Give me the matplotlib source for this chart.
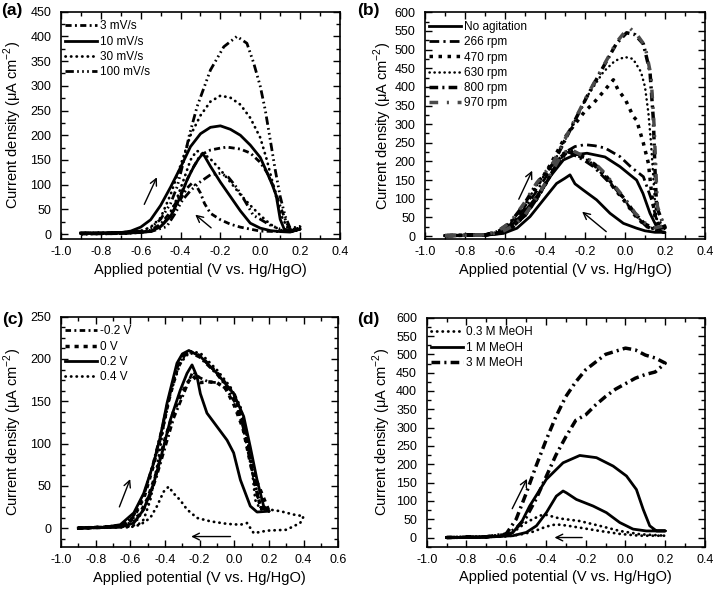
import matplotlib
matplotlib.use('Agg')
import matplotlib.pyplot as plt
from matplotlib.ticker import MultipleLocator

plt.rcParams['font.family'] = ['Liberation Sans', 'DejaVu Sans']
plt.rcParams['mathtext.fontset'] = 'custom'
plt.rcParams['mathtext.rm'] = 'Liberation Sans'
plt.rcParams['axes.unicode_minus'] = False

# ---------------- (a) scan rate ----------------
a3_v = [-0.9, -0.7, -0.6, -0.55, -0.5, -0.45, -0.4, -0.35, -0.3, -0.25, -0.2, -0.167, -0.1, -0.05, 0.0, 0.033, 0.067, 0.1, 0.133, 0.15, 0.2,
        0.15, 0.1, 0.0, -0.1, -0.15, -0.2, -0.25, -0.28, -0.3, -0.32, -0.34, -0.37, -0.4, -0.45, -0.5, -0.55, -0.7, -0.9]
a3_j = [0, 1, 3, 8, 20, 45, 80, 125, 160, 170, 174, 176, 172, 164, 145, 125, 96, 56, 22, 10, 10,
        6, 5, 6, 14, 20, 29, 42, 62, 83, 97, 104, 92, 70, 38, 15, 5, 1, 0]
a10_v = [-0.9, -0.8, -0.7, -0.65, -0.6, -0.55, -0.5, -0.45, -0.4, -0.35, -0.3, -0.25, -0.2, -0.15, -0.1, -0.05, 0.0, 0.03, 0.06, 0.08, 0.1, 0.12, 0.15, 0.2,
         0.15, 0.1, 0.05, 0.0, -0.05, -0.1, -0.15, -0.2, -0.25, -0.28, -0.29, -0.31, -0.333, -0.367, -0.4, -0.45, -0.5, -0.55, -0.6, -0.7, -0.9]
a10_j = [2, 2, 3, 6, 14, 29, 58, 95, 135, 177, 203, 216, 219, 212, 200, 180, 155, 128, 100, 78, 30, 10, 5, 10,
         4, 5, 7, 12, 22, 47, 76, 105, 137, 158, 162, 152, 137, 110, 76, 36, 15, 6, 3, 2, 2]
a30_v = [-0.9, -0.7, -0.6, -0.55, -0.5, -0.45, -0.4, -0.35, -0.3, -0.25, -0.2, -0.15, -0.1, -0.05, 0.0, 0.033, 0.067, 0.1, 0.133, 0.15, 0.2,
         0.15, 0.1, 0.05, 0.0, -0.05, -0.1, -0.15, -0.2, -0.25, -0.3, -0.32, -0.35, -0.38, -0.42, -0.46, -0.5, -0.55, -0.7, -0.9]
a30_j = [1, 2, 6, 14, 33, 80, 139, 200, 240, 268, 280, 276, 262, 235, 195, 150, 96, 42, 15, 8, 12,
         6, 8, 20, 38, 58, 80, 105, 130, 152, 167, 168, 150, 115, 70, 35, 15, 5, 1, 1]
a100_v = [-0.9, -0.7, -0.6, -0.55, -0.5, -0.45, -0.417, -0.383, -0.358, -0.317, -0.25, -0.183, -0.117, -0.067, -0.033, 0.0, 0.025, 0.05, 0.075, 0.1, 0.125, 0.15, 0.2,
          0.15, 0.1, 0.05, 0.0, -0.035, -0.08, -0.12, -0.16, -0.2, -0.25, -0.3, -0.35, -0.39, -0.43, -0.47, -0.55, -0.7, -0.9]
a100_j = [2, 3, 6, 12, 30, 62, 96, 150, 197, 258, 332, 379, 400, 386, 346, 299, 251, 191, 130, 76, 36, 12, 15,
          8, 10, 18, 30, 38, 69, 95, 115, 123, 120, 106, 88, 69, 40, 15, 5, 2, 2]

# ---------------- (b) agitation ----------------
b0_v = [-0.9, -0.7, -0.64, -0.575, -0.508, -0.442, -0.375, -0.308, -0.25, -0.19, -0.1, -0.025, 0.03, 0.058, 0.09, 0.125, 0.158, 0.18, 0.2,
        0.15, 0.1, 0.058, -0.008, -0.075, -0.142, -0.208, -0.25, -0.275, -0.3, -0.342, -0.408, -0.475, -0.54, -0.608, -0.7, -0.9]
b0_j = [1, 2, 7, 25, 61, 106, 159, 204, 218, 222, 212, 186, 162, 150, 114, 61, 25, 12, 10,
        10, 14, 21, 34, 61, 97, 123, 140, 164, 155, 141, 97, 52, 21, 7, 2, 1]
b266_v = [-0.9, -0.7, -0.64, -0.575, -0.508, -0.442, -0.375, -0.308, -0.25, -0.2, -0.15, -0.1, -0.025, 0.03, 0.092, 0.133, 0.158, 0.18, 0.2,
          0.15, 0.108, 0.058, 0.008, -0.042, -0.108, -0.158, -0.208, -0.258, -0.28, -0.325, -0.375, -0.44, -0.5, -0.56, -0.62, -0.7, -0.9]
b266_j = [1, 3, 9, 30, 70, 120, 175, 222, 240, 245, 242, 236, 213, 185, 159, 97, 43, 25, 22,
          18, 25, 52, 88, 123, 159, 186, 204, 218, 225, 204, 159, 100, 55, 25, 8, 3, 1]
b470_v = [-0.9, -0.7, -0.64, -0.575, -0.508, -0.442, -0.375, -0.3, -0.25, -0.2, -0.158, -0.108, -0.058, -0.033, 0.0, 0.042, 0.058, 0.092, 0.117, 0.133, 0.15, 0.17, 0.2,
          0.15, 0.1, 0.05, 0.0, -0.05, -0.1, -0.15, -0.2, -0.25, -0.28, -0.32, -0.37, -0.44, -0.5, -0.56, -0.62, -0.7, -0.9]
b470_j = [1, 3, 10, 32, 75, 130, 190, 265, 300, 335, 356, 387, 419, 390, 368, 320, 311, 249, 195, 115, 52, 25, 22,
          15, 28, 55, 92, 125, 160, 188, 206, 220, 230, 210, 165, 100, 55, 25, 8, 3, 1]
b630_v = [-0.9, -0.7, -0.64, -0.575, -0.508, -0.442, -0.358, -0.275, -0.19, -0.108, -0.05, 0.0, 0.04, 0.08, 0.1, 0.117, 0.13, 0.14, 0.15, 0.16, 0.2,
          0.15, 0.1, 0.05, 0.0, -0.05, -0.1, -0.15, -0.2, -0.25, -0.28, -0.32, -0.37, -0.44, -0.5, -0.56, -0.62, -0.7, -0.9]
b630_j = [1, 3, 10, 33, 78, 135, 195, 284, 374, 440, 470, 480, 475, 440, 400, 330, 250, 170, 90, 45, 25,
          18, 30, 58, 95, 128, 162, 190, 208, 222, 228, 208, 162, 98, 54, 24, 8, 3, 1]
b800_v = [-0.9, -0.7, -0.64, -0.575, -0.508, -0.442, -0.358, -0.275, -0.19, -0.108, -0.042, 0.008, 0.05, 0.092, 0.125, 0.142, 0.15, 0.158, 0.19, 0.2,
          0.15, 0.1, 0.05, 0.0, -0.05, -0.1, -0.15, -0.2, -0.25, -0.28, -0.32, -0.37, -0.44, -0.5, -0.56, -0.62, -0.7, -0.9]
b800_j = [1, 3, 11, 35, 82, 140, 195, 284, 374, 454, 517, 545, 540, 515, 440, 311, 177, 79, 34, 25,
          20, 32, 60, 98, 130, 165, 192, 210, 224, 232, 212, 166, 102, 56, 26, 9, 3, 1]
b970_v = [-0.9, -0.7, -0.64, -0.575, -0.508, -0.442, -0.358, -0.275, -0.19, -0.108, -0.042, 0.008, 0.025, 0.06, 0.1, 0.13, 0.145, 0.155, 0.162, 0.19, 0.2,
          0.15, 0.1, 0.05, 0.0, -0.05, -0.1, -0.15, -0.2, -0.25, -0.28, -0.32, -0.37, -0.44, -0.5, -0.56, -0.62, -0.7, -0.9]
b970_j = [1, 3, 12, 36, 85, 142, 198, 287, 376, 456, 520, 553, 557, 540, 510, 430, 300, 170, 80, 34, 28,
          22, 35, 62, 100, 133, 168, 195, 212, 226, 234, 215, 168, 104, 57, 27, 10, 3, 1]

# ---------------- (c) potential ----------------
cm02_v = [-0.9, -0.75, -0.65, -0.58, -0.52, -0.47, -0.42, -0.38, -0.33, -0.29, -0.26, -0.2, -0.1, 0.0, 0.05, 0.09, 0.12, 0.15, 0.2,
          0.15, 0.1, 0.05, 0.0, -0.05, -0.1, -0.15, -0.2, -0.24, -0.27, -0.3, -0.35, -0.4, -0.45, -0.5, -0.56, -0.65, -0.9]
cm02_j = [0, 1, 4, 15, 40, 75, 115, 152, 190, 205, 208, 202, 182, 155, 125, 85, 50, 25, 20,
          25, 70, 120, 150, 165, 172, 173, 178, 185, 170, 155, 130, 95, 60, 30, 10, 2, 0]
c0_v = [-0.9, -0.75, -0.65, -0.58, -0.52, -0.47, -0.42, -0.38, -0.33, -0.29, -0.26, -0.2, -0.1, 0.0, 0.05, 0.09, 0.12, 0.15, 0.2,
        0.1, 0.05, 0.0, -0.05, -0.1, -0.15, -0.2, -0.24, -0.27, -0.3, -0.35, -0.4, -0.45, -0.5, -0.55, -0.65, -0.9]
c0_j = [0, 1, 3, 13, 37, 72, 112, 150, 188, 204, 209, 204, 184, 158, 128, 88, 52, 26, 20,
        70, 118, 145, 165, 172, 173, 172, 180, 172, 160, 138, 105, 65, 35, 15, 2, 0]
c02_v = [-0.9, -0.75, -0.658, -0.58, -0.523, -0.465, -0.427, -0.388, -0.331, -0.3, -0.263, -0.196, -0.1, -0.004, 0.054, 0.092, 0.131, 0.169, 0.2,
         0.131, 0.092, 0.035, -0.004, -0.042, -0.1, -0.158, -0.196, -0.215, -0.244, -0.273, -0.312, -0.369, -0.417, -0.465, -0.523, -0.58, -0.658, -0.9]
c02_j = [0, 1, 4, 18, 41, 77, 108, 148, 195, 206, 210, 203, 183, 159, 132, 96, 57, 26, 20,
         19, 26, 57, 89, 104, 120, 136, 159, 179, 193, 183, 163, 128, 89, 53, 22, 6, 1, 0]
c04_v = [-0.9, -0.6, -0.55, -0.523, -0.485, -0.446, -0.408, -0.369, -0.312, -0.254, -0.196, -0.1, -0.023, 0.035, 0.073, 0.102, 0.121, 0.15, 0.2, 0.265, 0.342, 0.4,
         0.38, 0.3, 0.19, 0.112, 0.073, 0.035, -0.042, -0.138, -0.215, -0.273, -0.312, -0.35, -0.379, -0.408, -0.446, -0.485, -0.542, -0.6, -0.9]
c04_j = [0, 2, 5, 10, 33, 73, 120, 159, 195, 209, 207, 187, 167, 144, 108, 69, 33, 22, 22, 20, 16, 14,
         6, -2, -3, -6, 6, 4, 5, 8, 12, 22, 33, 41, 49, 43, 26, 12, 4, 1, 0]

# ---------------- (d) methanol concentration ----------------
d03_v = [-0.9, -0.7, -0.6, -0.566, -0.5, -0.43, -0.4, -0.331, -0.23, -0.13, -0.029, 0.072, 0.2,
         0.07, -0.03, -0.13, -0.23, -0.3, -0.35, -0.398, -0.465, -0.53, -0.6, -0.9]
d03_j = [0, 1, 5, 14, 41, 60, 62, 52, 45, 32, 18, 9, 5,
         5, 10, 18, 27, 33, 36, 30, 16, 8, 3, 0]
d1_v = [-0.9, -0.7, -0.62, -0.566, -0.52, -0.482, -0.398, -0.314, -0.23, -0.146, -0.062, 0.005, 0.055, 0.089, 0.122, 0.156, 0.2,
        0.105, 0.038, -0.029, -0.096, -0.163, -0.247, -0.297, -0.314, -0.348, -0.398, -0.448, -0.499, -0.566, -0.7, -0.9]
d1_j = [0, 2, 5, 14, 45, 86, 159, 204, 224, 218, 195, 168, 131, 77, 32, 18, 18,
        18, 23, 41, 68, 86, 104, 122, 127, 113, 68, 32, 14, 5, 1, 0]
d3_v = [-0.9, -0.7, -0.6, -0.55, -0.5, -0.45, -0.4, -0.35, -0.3, -0.25, -0.2, -0.1, 0.0, 0.05, 0.1, 0.15, 0.2,
        0.15, 0.1, 0.05, 0.0, -0.05, -0.1, -0.15, -0.2, -0.25, -0.3, -0.35, -0.4, -0.45, -0.5, -0.55, -0.6, -0.7, -0.9]
d3_j = [0, 2, 10, 50, 120, 195, 265, 330, 385, 425, 458, 500, 517, 512, 498, 490, 476,
        452, 445, 435, 420, 405, 385, 362, 335, 320, 275, 225, 165, 105, 55, 25, 8, 2, 0]

xlabel = 'Applied potential (V vs. Hg/HgO)'
ylabel = 'Current density (μA cm$^{-2}$)'

fig = plt.figure(figsize=(7.15, 5.9), dpi=100)
ax_a = fig.add_axes([0.0853, 0.5949, 0.3902, 0.3853])
ax_b = fig.add_axes([0.5944, 0.5949, 0.3916, 0.3843])
ax_c = fig.add_axes([0.0853, 0.0734, 0.3879, 0.3898])
ax_d = fig.add_axes([0.5968, 0.0734, 0.3892, 0.3881])

dot = (0, (0.1, 1.9))


def style(ax, xlim, ylim, ymaj, ymin, lx, ly):
    ax.set_xlim(*xlim)
    ax.set_ylim(*ylim)
    ax.xaxis.set_major_locator(MultipleLocator(0.2))
    ax.xaxis.set_minor_locator(MultipleLocator(0.1))
    ax.yaxis.set_major_locator(MultipleLocator(ymaj))
    ax.yaxis.set_minor_locator(MultipleLocator(ymin))
    ax.tick_params(which='both', direction='in', top=True, right=True, width=1)
    ax.tick_params(which='major', length=5, labelsize=9)
    ax.tick_params(axis='x', which='major', pad=5)
    ax.tick_params(axis='y', which='major', pad=7)
    ax.tick_params(which='minor', length=3)
    for s in ax.spines.values():
        s.set_linewidth(1.2)
    ax.set_xlabel(xlabel, fontsize=10.5)
    ax.set_ylabel(ylabel, fontsize=10.5)
    ax.xaxis.set_label_coords(0.5, ly)
    ax.yaxis.set_label_coords(lx, 0.5)
    ax.legend(loc='upper left', bbox_to_anchor=(0.0, 0.98), frameon=False, fontsize=8.5,
              handlelength=2.7, handletextpad=0.25, labelspacing=0.28, borderpad=0.35,
              borderaxespad=0.0)


def arrow(ax, start, end):
    ax.annotate('', xy=end, xytext=start,
                arrowprops=dict(arrowstyle='->', lw=1, color='black', mutation_scale=12))


# (a)
ax_a.plot(a3_v, a3_j, color='black', lw=2, ls=(0, (2.2, 1.2, 0.7, 1.2)), label='3 mV/s')
ax_a.plot(a10_v, a10_j, color='black', lw=2, label='10 mV/s')
ax_a.plot(a30_v, a30_j, color='black', lw=2, ls=dot, dash_capstyle='round', label='30 mV/s')
ax_a.plot(a100_v, a100_j, color='black', lw=2, ls=(0, (3, 1.2, 0.6, 1.2, 0.6, 1.2, 0.6, 1.2)), label='100 mV/s')
arrow(ax_a, (-0.588, 55), (-0.513, 120))
arrow(ax_a, (-0.236, 9), (-0.337, 43))
style(ax_a, (-1.0, 0.4), (-10, 450), 50, 25, -0.131, -0.106)

# (b)
ax_b.plot(b0_v, b0_j, color='black', lw=2, label='No agitation')
ax_b.plot(b266_v, b266_j, color='black', lw=2, ls=(0, (3.5, 1.5, 0.8, 1.5)), label='266 rpm')
ax_b.plot(b470_v, b470_j, color='black', lw=2.5, ls=(0, (1, 1.6)), label='470 rpm')
ax_b.plot(b630_v, b630_j, color='black', lw=1.8, ls=dot, dash_capstyle='round', label='630 rpm')
ax_b.plot(b800_v, b800_j, color='black', lw=2.5, ls=(0, (2.5, 1.2, 0.6, 1.2)), label='800 rpm')
ax_b.plot(b970_v, b970_j, color='#4a4a4a', lw=2.5, ls=(0, (2.5, 2.5, 0.6, 2.5)), label='970 rpm')
arrow(ax_b, (-0.537, 92), (-0.458, 182))
arrow(ax_b, (-0.083, 7), (-0.225, 70))
style(ax_b, (-1.0, 0.4), (-8, 600), 50, 25, -0.112, -0.106)

# (c)
ax_c.plot(cm02_v, cm02_j, color='black', lw=2, ls=(0, (2, 1.2, 0.7, 1.2)), label='-0.2 V')
ax_c.plot(c0_v, c0_j, color='black', lw=2.5, ls=(0, (1.2, 1.4)), label='0 V')
ax_c.plot(c02_v, c02_j, color='black', lw=2, label='0.2 V')
ax_c.plot(c04_v, c04_j, color='black', lw=2, ls=dot, dash_capstyle='round', label='0.4 V')
arrow(ax_c, (-0.669, 22), (-0.595, 61))
arrow(ax_c, (-0.006, -10), (-0.265, -10))
style(ax_c, (-1.0, 0.6), (-22, 250), 50, 12.5, -0.132, -0.106)

# (d)
ax_d.plot(d03_v, d03_j, color='black', lw=2, ls=dot, dash_capstyle='round', label='0.3 M MeOH')
ax_d.plot(d1_v, d1_j, color='black', lw=2, label='1 M MeOH')
ax_d.plot(d3_v, d3_j, color='black', lw=2.5, ls=(0, (2.5, 1.2, 0.6, 1.2)), label='3 M MeOH')
arrow(ax_d, (-0.576, 72), (-0.489, 167))
arrow(ax_d, (-0.204, 0), (-0.371, 0))
style(ax_d, (-1.0, 0.4), (-25, 600), 50, 25, -0.12, -0.10)

for x, y, t in [(0.0014, 0.983, '(a)'), (0.499, 0.983, '(b)'),
                (0.003, 0.4585, '(c)'), (0.499, 0.4585, '(d)')]:
    fig.text(x, y, t, ha='left', va='center', fontsize=12.5, fontweight='bold')

fig.savefig('out.png', dpi=100)
